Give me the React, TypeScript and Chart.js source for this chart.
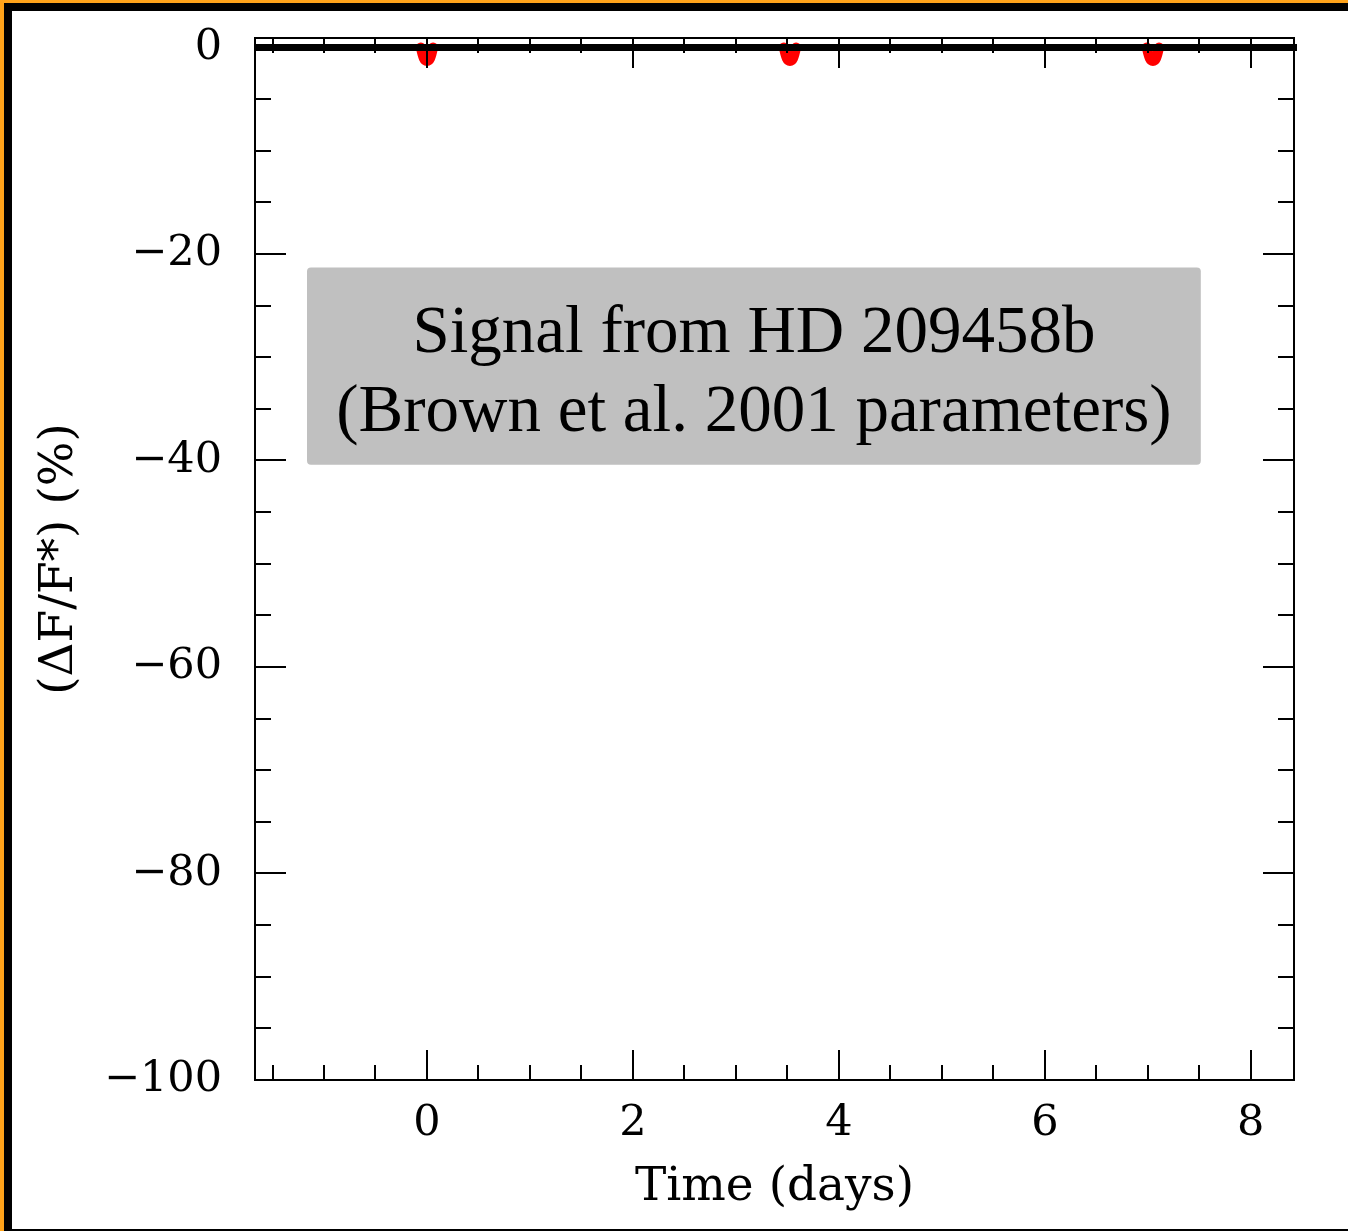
import React, { useEffect, useRef } from "react";
import { Chart, registerables } from "chart.js";

Chart.register(...registerables);

// ---- data ----
const baselineTimes = [-1.67, 8.45];
const baselineFlux = [0, 0];

const transitCenters = [0, 3.525, 7.05];
const transitOffsets = [-0.06, -0.045, -0.03, -0.015, 0, 0.015, 0.03, 0.045, 0.06];
const transitFlux = [0, -0.6, -1.05, -1.25, -1.3, -1.25, -1.05, -0.6, 0];

const xMajorTicks = [0, 2, 4, 6, 8];
const xMinorTicks = [-1.5, -1, -0.5, 0, 0.5, 1, 1.5, 2, 2.5, 3, 3.5, 4, 4.5, 5, 5.5, 6, 6.5, 7, 7.5, 8];
const yMajorTicks = [-100, -80, -60, -40, -20, 0];
const yMinorTicks = [-100, -95, -90, -85, -80, -75, -70, -65, -60, -55, -50, -45, -40, -35, -30, -25, -20, -15, -10, -5, 0];

const xRange = [-1.67, 8.42];
const yRange = [-100, 0.92];

const annotationLines = ["Signal from HD 209458b", "(Brown et al. 2001 parameters)"];
const annotationBox = { x0: -1.165, x1: 7.515, y0: -21.3, y1: -40.4 };

const xTitle = "Time (days)";
const yTitle = "(\u0394F/F*) (%)";

const fmt = (v: number) => (v < 0 ? "\u2212" + Math.abs(v) : String(v));

const framePlugin = {
  id: "frameTicks",
  afterDatasetsDraw(chart: any) {
    const { ctx, chartArea: a, scales } = chart;
    const xs = scales.x;
    const ys = scales.y;
    ctx.save();
    ctx.strokeStyle = "#000";
    ctx.lineWidth = 2;
    ctx.strokeRect(a.left, a.top, a.right - a.left, a.bottom - a.top);
    ctx.beginPath();
    for (const v of xMinorTicks) {
      const len = xMajorTicks.includes(v) ? 30 : 15;
      const p = Math.round(xs.getPixelForValue(v));
      ctx.moveTo(p, a.bottom);
      ctx.lineTo(p, a.bottom - len);
      ctx.moveTo(p, a.top);
      ctx.lineTo(p, a.top + len);
    }
    for (const v of yMinorTicks) {
      const len = yMajorTicks.includes(v) ? 31 : 16;
      const p = Math.round(ys.getPixelForValue(v));
      ctx.moveTo(a.left, p);
      ctx.lineTo(a.left + len, p);
      ctx.moveTo(a.right, p);
      ctx.lineTo(a.right - len, p);
    }
    ctx.stroke();
    ctx.restore();
  },
  afterDraw(chart: any) {
    const { ctx, scales } = chart;
    const xs = scales.x;
    const ys = scales.y;
    const l = xs.getPixelForValue(annotationBox.x0);
    const r = xs.getPixelForValue(annotationBox.x1);
    const t = ys.getPixelForValue(annotationBox.y0);
    const b = ys.getPixelForValue(annotationBox.y1);
    ctx.save();
    ctx.fillStyle = "#c0c0c0";
    ctx.beginPath();
    (ctx as any).roundRect(l, t, r - l, b - t, 4);
    ctx.fill();
    ctx.fillStyle = "#000";
    ctx.font = '67px "Liberation Serif", "Times New Roman", serif';
    ctx.textAlign = "center";
    ctx.textBaseline = "alphabetic";
    const cx = (l + r) / 2;
    ctx.fillText(annotationLines[0], cx, t + 85);
    ctx.fillText(annotationLines[1], cx, t + 164);
    ctx.restore();
  },
};

export default function App() {
  const ref = useRef<HTMLCanvasElement | null>(null);
  useEffect(() => {
    if (!ref.current) return;
    const tickFont = { family: '"DejaVu Serif", serif', size: 43 };
    const titleFont = { family: '"DejaVu Serif", serif', size: 47 };
    const transitSets = transitCenters.map((c) => ({
      data: transitOffsets.map((o, i) => ({ x: c + o, y: transitFlux[i] })),
      showLine: true,
      borderColor: "#ff0000",
      backgroundColor: "#ff0000",
      borderWidth: 10,
      borderCapStyle: "round" as const,
      borderJoinStyle: "round" as const,
      pointRadius: 0,
      tension: 0.3,
      clip: false as any,
    }));
    const chart = new Chart(ref.current, {
      type: "scatter",
      data: {
        datasets: [
          {
            data: baselineTimes.map((x, i) => ({ x, y: baselineFlux[i] })),
            showLine: true,
            borderColor: "#000",
            borderWidth: 7,
            pointRadius: 0,
            clip: { left: 0, top: 10, right: 3, bottom: 0 } as any,
          },
          ...transitSets,
        ],
      },
      options: {
        animation: false,
        responsive: false,
        maintainAspectRatio: false,
        events: [],
        layout: { padding: { left: 0, top: 38, right: 54, bottom: 0 } },
        plugins: { legend: { display: false }, tooltip: { enabled: false } },
        scales: {
          x: {
            type: "linear",
            min: xRange[0],
            max: xRange[1],
            grid: { display: false, drawTicks: false },
            border: { display: false },
            ticks: { font: tickFont, color: "#000", padding: 18, callback: (v: any) => fmt(Number(v)), maxRotation: 0 },
            afterBuildTicks: (s: any) => {
              s.ticks = xMajorTicks.map((value) => ({ value }));
            },
            afterFit: (s: any) => {
              s.height = 151;
              s.paddingLeft = 0;
              s.paddingRight = 0;
              s.paddingTop = 0;
              s.paddingBottom = 0;
            },
            title: { display: true, text: xTitle, font: titleFont, color: "#000", padding: { top: 0, bottom: 15 } },
          },
          y: {
            type: "linear",
            min: yRange[0],
            max: yRange[1],
            grid: { display: false, drawTicks: false },
            border: { display: false },
            ticks: { font: tickFont, color: "#000", padding: 33, callback: (v: any) => fmt(Number(v)) },
            afterBuildTicks: (s: any) => {
              s.ticks = yMajorTicks.map((value) => ({ value }));
            },
            afterFit: (s: any) => {
              s.width = 255;
              s.paddingLeft = 0;
              s.paddingRight = 0;
              s.paddingTop = 0;
              s.paddingBottom = 0;
            },
            title: { display: true, text: yTitle, font: titleFont, color: "#000", padding: { top: 32, bottom: 0 } },
          },
        },
      },
      plugins: [framePlugin],
    });
    return () => chart.destroy();
  }, []);

  return (
    <div style={{ position: "absolute", left: 0, top: 0, width: 1348, height: 1231, background: "#ffa31a" }}>
      <div style={{ position: "absolute", left: 4, top: 3, right: 0, bottom: 0, background: "#000" }} />
      <div style={{ position: "absolute", left: 12, top: 11, right: 0, bottom: 2, background: "#fff" }} />
      <canvas ref={ref} width={1348} height={1231} style={{ position: "absolute", left: 0, top: 0, display: "block" }} />
    </div>
  );
}
